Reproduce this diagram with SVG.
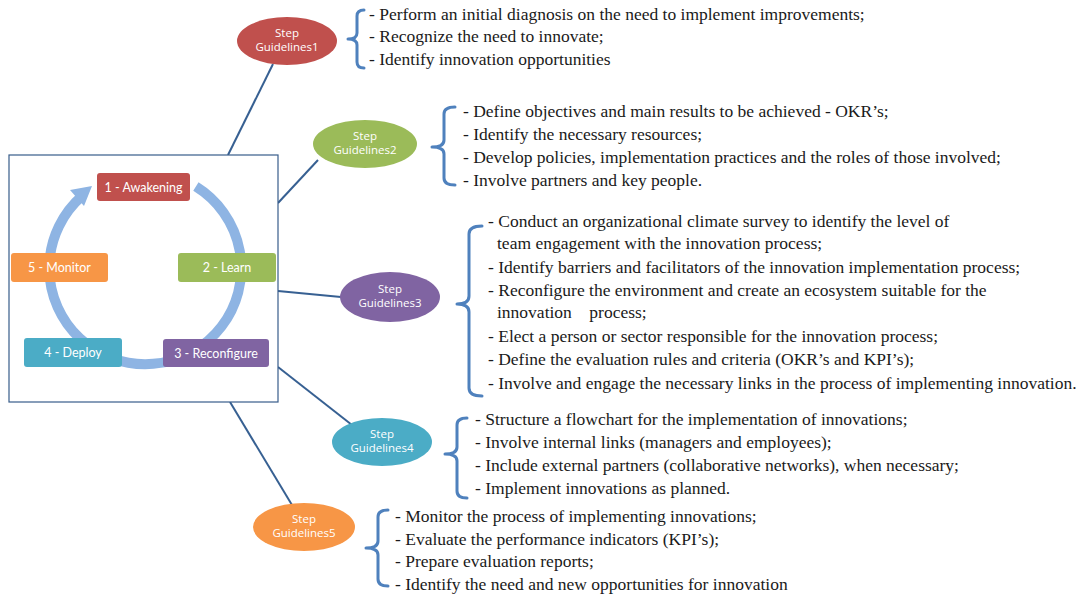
<svg xmlns="http://www.w3.org/2000/svg" width="1078" height="596" viewBox="0 0 1078 596">
<style>
.frame{fill:#fff;stroke:#385d8a;stroke-width:1.2}
.cyc{fill:none;stroke:#8eb4e3;stroke-width:10}
.box{stroke:none}
.blbl{font-family:Lato,"Open Sans",sans-serif;font-size:12.5px;fill:#fff;text-anchor:middle}
.elbl{font-family:"Open Sans","Liberation Sans",sans-serif;font-size:11.5px;fill:#fff;text-anchor:middle}
.con{stroke:#376092;stroke-width:2;fill:none}
.brace{fill:none;stroke:#4f81bd;stroke-width:3;stroke-linejoin:round;stroke-linecap:round}
.t{font-family:"Liberation Serif","Times New Roman",serif;font-size:17.5px;fill:#1a1a1a}
</style>
<rect width="1078" height="596" fill="#fff"/>

<g id="connectors">
<line class="con" x1="273" y1="64" x2="228" y2="155"/>
<line class="con" x1="318" y1="160" x2="278" y2="203"/>
<line class="con" x1="278" y1="291" x2="341" y2="297"/>
<line class="con" x1="278" y1="367" x2="352" y2="425"/>
<line class="con" x1="230" y1="402" x2="292" y2="505"/>
</g>

<g id="cycle-frame">
<rect class="frame" x="9" y="155" width="269" height="247"/>
<path class="cyc" d="M195.9,186.6 A96,96 0 1 1 82,196"/>
<polygon points="92,186 70,190 84,206" fill="#8eb4e3"/>
</g>

<g id="n1"><rect class="box" x="97" y="173" width="93" height="28" rx="3" fill="#c0504d"/><text class="blbl" x="143.5" y="191.5">1 - Awakening</text></g>
<g id="n2"><rect class="box" x="178" y="253" width="98" height="29" rx="3" fill="#9bbb59"/><text class="blbl" x="227" y="272">2 - Learn</text></g>
<g id="n3"><rect class="box" x="163" y="339" width="106" height="28" rx="3" fill="#8064a2"/><text class="blbl" x="216" y="357.5">3 - Reconfigure</text></g>
<g id="n4"><rect class="box" x="24" y="338" width="98" height="29" rx="3" fill="#4bacc6"/><text class="blbl" x="73" y="357">4 - Deploy</text></g>
<g id="n5"><rect class="box" x="11" y="253" width="97" height="29" rx="3" fill="#f79646"/><text class="blbl" x="59.5" y="272">5 - Monitor</text></g>

<g id="g1">
<ellipse cx="287" cy="41" rx="50" ry="24" fill="#c0504d"/>
<text class="elbl" x="287" y="37">Step</text><text class="elbl" x="287" y="51">Guidelines1</text>
<path class="brace" d="M364,10 Q357,10 357,16 L357,33 Q357,39 348,39 Q357,39 357,45 L357,62 Q357,68 364,68"/>
<text class="t" x="369" y="20">- Perform an initial diagnosis on the need to implement improvements;</text>
<text class="t" x="369" y="42">- Recognize the need to innovate;</text>
<text class="t" x="369" y="65">- Identify innovation opportunities</text>
</g>

<g id="g2">
<ellipse cx="365" cy="144" rx="52" ry="24" fill="#9bbb59"/>
<text class="elbl" x="365" y="140">Step</text><text class="elbl" x="365" y="154">Guidelines2</text>
<path class="brace" d="M455,107 Q444,107 444,114 L444,140 Q444,147 432,147 Q444,147 444,154 L444,178 Q444,185 455,185"/>
<text class="t" x="463" y="117">- Define objectives and main results to be achieved - OKR’s;</text>
<text class="t" x="463" y="140">- Identify the necessary resources;</text>
<text class="t" x="463" y="163">- Develop policies, implementation practices and the roles of those involved;</text>
<text class="t" x="463" y="186">- Involve partners and key people.</text>
</g>

<g id="g3">
<ellipse cx="390" cy="297" rx="50" ry="25" fill="#8064a2"/>
<text class="elbl" x="390" y="293">Step</text><text class="elbl" x="390" y="307">Guidelines3</text>
<path class="brace" d="M482,226 Q469,226 469,234 L469,296 Q469,304 457,304 Q469,304 469,312 L469,388 Q469,396 482,396"/>
<text class="t" x="488" y="227">- Conduct an organizational climate survey to identify the level of</text>
<text class="t" x="497" y="249">team engagement with the innovation process;</text>
<text class="t" x="488" y="273">- Identify barriers and facilitators of the innovation implementation process;</text>
<text class="t" x="488" y="296">- Reconfigure the environment and create an ecosystem suitable for the</text>
<text class="t" x="497" y="318" xml:space="preserve">innovation    process;</text>
<text class="t" x="488" y="342">- Elect a person or sector responsible for the innovation process;</text>
<text class="t" x="488" y="365">- Define the evaluation rules and criteria (OKR’s and KPI’s);</text>
<text class="t" x="488" y="389">- Involve and engage the necessary links in the process of implementing innovation.</text>
</g>

<g id="g4">
<ellipse cx="382" cy="442" rx="50" ry="24" fill="#4bacc6"/>
<text class="elbl" x="382" y="438">Step</text><text class="elbl" x="382" y="452">Guidelines4</text>
<path class="brace" d="M467,418 Q457,418 457,425 L457,447 Q457,454 445,454 Q457,454 457,461 L457,491 Q457,498 467,498"/>
<text class="t" x="475" y="425">- Structure a flowchart for the implementation of innovations;</text>
<text class="t" x="475" y="448">- Involve internal links (managers and employees);</text>
<text class="t" x="475" y="471">- Include external partners (collaborative networks), when necessary;</text>
<text class="t" x="475" y="494">- Implement innovations as planned.</text>
</g>

<g id="g5">
<ellipse cx="304" cy="527" rx="51" ry="24" fill="#f79646"/>
<text class="elbl" x="304" y="523">Step</text><text class="elbl" x="304" y="537">Guidelines5</text>
<path class="brace" d="M388,510 Q378,510 378,517 L378,541 Q378,548 366,548 Q378,548 378,555 L378,579 Q378,586 388,586"/>
<text class="t" x="395" y="522">- Monitor the process of implementing innovations;</text>
<text class="t" x="395" y="545">- Evaluate the performance indicators (KPI’s);</text>
<text class="t" x="395" y="567">- Prepare evaluation reports;</text>
<text class="t" x="395" y="590">- Identify the need and new opportunities for innovation</text>
</g>
</svg>
